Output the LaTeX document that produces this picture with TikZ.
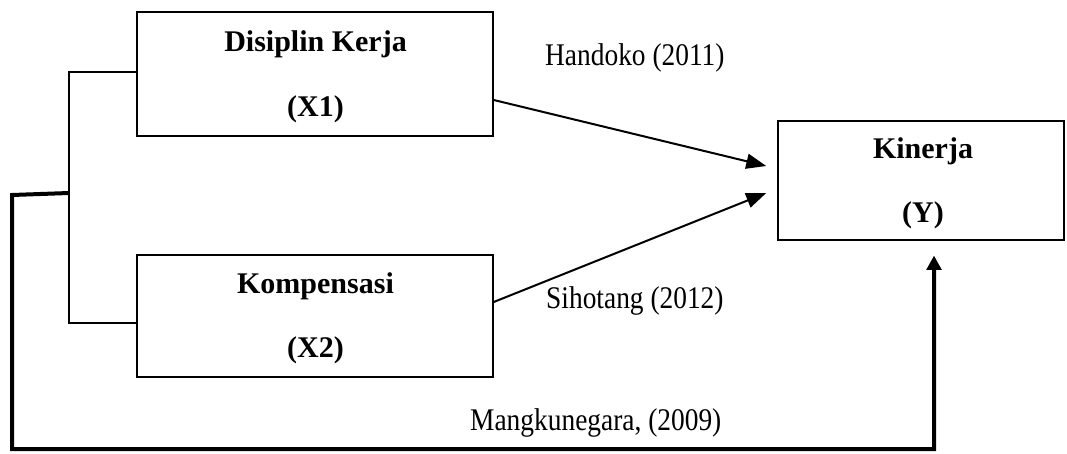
\documentclass[tikz,border=0pt]{standalone}
\usepackage{fontspec}
\setmainfont{Liberation Serif}
\usetikzlibrary{arrows.meta}
\newcommand{\narrowtxt}[1]{\scalebox{0.87}[1]{#1}}
\begin{document}
\begin{tikzpicture}[x=1pt,y=-1pt,
  box/.style={draw,line width=1.5pt,inner sep=0pt},
  thin/.style={line width=1.5pt},
  thickline/.style={line width=4pt},
  arr/.style={line width=2pt,-{Triangle[length=20pt,width=15pt]}},
  lbl/.style={font=\fontsize{31.5}{34}\selectfont,anchor=base west,inner sep=0pt},
  bt/.style={font=\fontsize{30}{34}\bfseries\selectfont,anchor=base,inner sep=0pt}]
\useasboundingbox (0,0) rectangle (1067,454);
\node[box,minimum width=356pt,minimum height=124pt] (X1) at (315,74) {};
\node[box,minimum width=356pt,minimum height=122pt] (X2) at (315,316) {};
\node[box,minimum width=286pt,minimum height=119pt] (Y) at (921,180.5) {};
\node[bt] (t1) at (315.5,52) {Disiplin Kerja};
\node[bt] (t2) at (315.5,117) {(X1)};
\node[bt] (t3) at (315.5,293) {Kompensasi};
\node[bt] (t4) at (315.5,357) {(X2)};
\node[bt] (t5) at (923,159) {Kinerja};
\node[bt] (t6) at (923,223) {(Y)};
\node[lbl] (h) at (545,66) {\narrowtxt{Handoko (2011)}};
\node[lbl] (s) at (546,308) {\narrowtxt{Sihotang (2012)}};
\node[lbl] (m) at (470,430) {\narrowtxt{Mangkunegara, (2009)}};
\coordinate (j) at (69,193);
\coordinate (bl) at (12,195);
\draw[thin] ([yshift=2pt]X1.west) -- (69,72) -- (69,323) -- ([yshift=-7pt]X2.west);
\draw[thickline,line join=miter] (j) -- (bl) |- (934,449) -- (934,266);
\draw[line width=2pt,-{Triangle[length=14pt,width=15pt]}] (934,268) -- ([xshift=13pt,yshift=-15pt]Y.south);
\draw[arr] ([yshift=-26pt]X1.east) -- ([xshift=-11pt,yshift=14.5pt]Y.west);
\draw[arr] ([yshift=14pt]X2.east) -- ([xshift=-11pt,yshift=-12.5pt]Y.west);
\end{tikzpicture}
\end{document}
